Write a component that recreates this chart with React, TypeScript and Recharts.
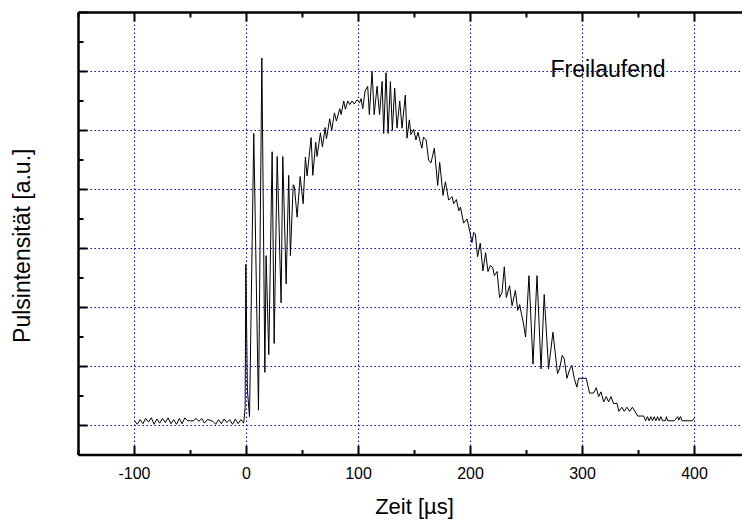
import React from "react";
import { LineChart, Line, XAxis, YAxis, CartesianGrid, Label } from "recharts";

const FONT = "'Liberation Sans', Arial, Helvetica, sans-serif";

// time in µs
const times = [
    -100, -97.5, -95, -92.5, -90, -87.5, -85, -82.5, -80, -77.5,
    -75, -72.5, -70, -67.5, -65, -62.5, -60, -57.5, -55, -52.5,
    -50, -47.5, -45, -42.5, -40, -37.5, -35, -32.5, -30, -27.5,
    -25, -22.5, -20, -17.5, -15, -12.5, -10, -7.5, -5, -2.5,
    -1.2, -0.6, 0.8, 2.7, 6.5, 10.7, 13.7, 16.4, 17.5, 19.9,
    22.9, 24.7, 27.4, 30.9, 32.4, 35.4, 37.7, 39.2, 41.7, 42.8,
    45.2, 47.9, 50.6, 52.6, 54.1, 57.7, 59.2, 61.8, 63.0, 66.0,
    67.8, 70.2, 71.4, 74.3, 76.1, 78.5, 80.3, 83.3, 84.5, 86.8,
    88.3, 90.4, 92.2, 94.2, 96.3, 98.7, 101, 102.3, 103.8, 105.9,
    108.2, 109.7, 112.1, 114.0, 116.6, 118.8, 121.1, 122.5, 124.6, 126.4,
    128.5, 130.2, 132.3, 134.4, 136.8, 138.9, 141.8, 143.3, 145.4, 146.8,
    149.2, 151.3, 153.1, 155.1, 156.6, 158, 160.4, 162.6, 164.7, 167.7,
    170.7, 172.5, 175.5, 177.6, 180.5, 183.5, 185, 187.4, 189.5, 191,
    193.9, 196.9, 199.8, 201.3, 202.8, 204.3, 206.3, 208.7, 211.1, 213.5,
    215.6, 217.7, 219.8, 221.3, 223.7, 226, 228.1, 230.2, 232, 234.9,
    237.1, 240.1, 242.2, 243.9, 245.4, 246.9, 249.2, 252.2, 255.8, 259.4,
    263, 265.8, 269.7, 273.6, 277.7, 279.5, 281.9, 283.7, 286.1, 288.4,
    290.5, 292.6, 295, 296.5, 303.3, 306.3, 309.9, 312.3, 314.4, 316.5,
    318.9, 321.2, 323.3, 325.4, 327.8, 330.7, 332.5, 335.2, 337.3, 339.7,
    342.1, 344.5, 347.2, 349.3, 354.6, 356.4, 358, 359.5, 361, 362.5,
    364, 365.5, 367, 368.5, 370, 371.5, 374, 375, 376, 382,
    385, 386, 387.5, 389, 398, 400,
];

// pulse intensity, arbitrary units
const intensity = [
    0.08, 0.02, 0.1, 0.03, 0.12, 0.06, 0.13, 0.02, 0.11, 0.04,
    0.12, 0.05, 0.13, 0.03, 0.1, 0.02, 0.12, 0.03, 0.13, 0.08,
    0.08, 0.08, 0.12, 0.07, 0.12, 0.04, 0.1, 0.09, 0.07, 0.02,
    0.1, 0.03, 0.11, 0.05, 0.1, 0.02, 0.11, 0.03, 0.1, 0.04,
    0.3, 2.73, 0.6, 0.15, 4.95, 0.26, 6.23, 0.9, 2.88, 1.2,
    4.64, 1.39, 4.56, 2.08, 4.56, 2.4, 4.24, 2.88, 4.08, 4.05,
    3.53, 4.22, 3.76, 4.55, 4.23, 4.88, 4.24, 4.8, 4.56, 4.96,
    4.72, 5.05, 4.86, 5.2, 5.0, 5.3, 5.16, 5.37, 5.27, 5.5,
    5.36, 5.5, 5.44, 5.5, 5.45, 5.52, 5.47, 5.54, 5.37, 5.67,
    5.75, 5.27, 6.0, 5.27, 5.75, 5.27, 5.83, 4.95, 5.98, 4.95,
    5.83, 5.0, 5.72, 5.04, 5.5, 5.04, 5.6, 4.87, 5.18, 4.93,
    5.02, 4.84, 4.97, 4.81, 4.7, 4.89, 4.84, 4.5, 4.45, 4.7,
    4.07, 4.46, 3.9, 4.13, 3.82, 3.88, 3.76, 3.83, 3.64, 3.7,
    3.43, 3.5, 3.25, 3.1, 3.27, 3.25, 2.86, 3.09, 2.62, 2.93,
    2.61, 2.71, 2.68, 2.54, 2.61, 2.17, 2.25, 2.69, 2.17, 2.37,
    2.03, 2.29, 1.95, 2.05, 1.9, 1.77, 1.5, 2.54, 1.04, 2.54,
    0.96, 2.22, 0.96, 1.58, 0.88, 0.96, 1.19, 1.13, 0.8, 0.94,
    1.02, 0.8, 0.65, 0.8, 0.8, 0.55, 0.55, 0.64, 0.49, 0.57,
    0.4, 0.49, 0.4, 0.49, 0.37, 0.38, 0.24, 0.31, 0.24, 0.31,
    0.24, 0.31, 0.23, 0.16, 0.16, 0.08, 0.15, 0.08, 0.15, 0.08,
    0.15, 0.08, 0.15, 0.08, 0.15, 0.08, 0.08, 0.15, 0.08, 0.08,
    0.15, 0.09, 0.15, 0.08, 0.08, 0.13,
];

const xTicks = [-150, -100, -50, 0, 50, 100, 150, 200, 250, 300, 350, 400, 450];
const xGrid = [-100, 0, 100, 200, 300, 400];
const yTicks = [-0.5, 0, 0.5, 1, 1.5, 2, 2.5, 3, 3.5, 4, 4.5, 5, 5.5, 6, 6.5, 7];
const yGrid = [0, 1, 2, 3, 4, 5, 6];

const data = times.map((t, i) => ({ t, v: intensity[i] }));

const BottomTick = ({ x, y, payload }: any) => {
    const major = payload.value % 100 === 0;
    return (
        <g>
            <line x1={x} y1={y} x2={x} y2={y - (major ? 9 : 5)} stroke="#000" strokeWidth={2} />
            {major && (
                <text x={x} y={y + 24} textAnchor="middle" fontSize={16} fill="#000" fontFamily={FONT}>
                    {payload.value}
                </text>
            )}
        </g>
    );
};

const TopTick = ({ x, y, payload }: any) => {
    const major = payload.value % 100 === 0;
    return <line x1={x} y1={y} x2={x} y2={y + (major ? 9 : 5)} stroke="#000" strokeWidth={2} />;
};

const LeftTick = ({ x, y, payload }: any) => {
    const major = Number.isInteger(payload.value);
    return <line x1={x} y1={y} x2={x + (major ? 9 : 5)} y2={y} stroke="#000" strokeWidth={2} />;
};

const App: React.FC = () => {
    return (
        <div
            style={{
                position: "absolute",
                left: 0,
                top: 0,
                width: 742,
                height: 520,
                overflow: "hidden",
                background: "#fff",
            }}
        >
            <LineChart
                width={760}
                height={520}
                data={data}
                margin={{ top: 11.5, right: 9.5, bottom: 35, left: 0 }}
            >
                <CartesianGrid
                    stroke="#0000ff"
                    strokeWidth={1}
                    strokeDasharray="1.5 2.5"
                    horizontalValues={yGrid}
                    verticalValues={xGrid}
                />
                <XAxis
                    dataKey="t"
                    type="number"
                    domain={[-150, 450]}
                    ticks={xTicks}
                    interval={0}
                    height={30}
                    tickSize={0}
                    tickMargin={0}
                    tickLine={false}
                    tick={<BottomTick />}
                    axisLine={{ stroke: "#000", strokeWidth: 2.5 }}
                >
                    <Label
                        content={({ viewBox }: any) => (
                            <text
                                x={viewBox.x + viewBox.width / 2}
                                y={viewBox.y + 59}
                                textAnchor="middle"
                                fontSize={22}
                                fill="#000"
                                fontFamily={FONT}
                            >
                                Zeit [µs]
                            </text>
                        )}
                    />
                </XAxis>
                <XAxis
                    xAxisId="top"
                    orientation="top"
                    dataKey="t"
                    type="number"
                    domain={[-150, 450]}
                    ticks={xTicks}
                    interval={0}
                    height={1}
                    tickSize={0}
                    tickMargin={0}
                    tickLine={false}
                    tick={<TopTick />}
                    axisLine={{ stroke: "#000", strokeWidth: 2.5 }}
                >
                    <Label
                        content={({ viewBox }: any) => (
                            <text
                                x={viewBox.x + 472}
                                y={viewBox.y + 65}
                                fontSize={23}
                                fill="#000"
                                fontFamily={FONT}
                            >
                                Freilaufend
                            </text>
                        )}
                    />
                </XAxis>
                <YAxis
                    type="number"
                    domain={[-0.5, 7]}
                    ticks={yTicks}
                    interval={0}
                    width={78.5}
                    tickSize={0}
                    tickMargin={0}
                    tickLine={false}
                    tick={<LeftTick />}
                    axisLine={{ stroke: "#000", strokeWidth: 2.5 }}
                >
                    <Label
                        content={({ viewBox }: any) => {
                            const cx = 30;
                            const cy = viewBox.y + viewBox.height / 2 + 12;
                            return (
                                <text
                                    x={cx}
                                    y={cy}
                                    transform={`rotate(-90, ${cx}, ${cy})`}
                                    textAnchor="middle"
                                    fontSize={23}
                                    fill="#000"
                                    fontFamily={FONT}
                                >
                                    Pulsintensität [a.u.]
                                </text>
                            );
                        }}
                    />
                </YAxis>
                <Line
                    type="linear"
                    dataKey="v"
                    stroke="#000"
                    strokeWidth={1}
                    dot={false}
                    isAnimationActive={false}
                />
            </LineChart>
        </div>
    );
};

export default App;
